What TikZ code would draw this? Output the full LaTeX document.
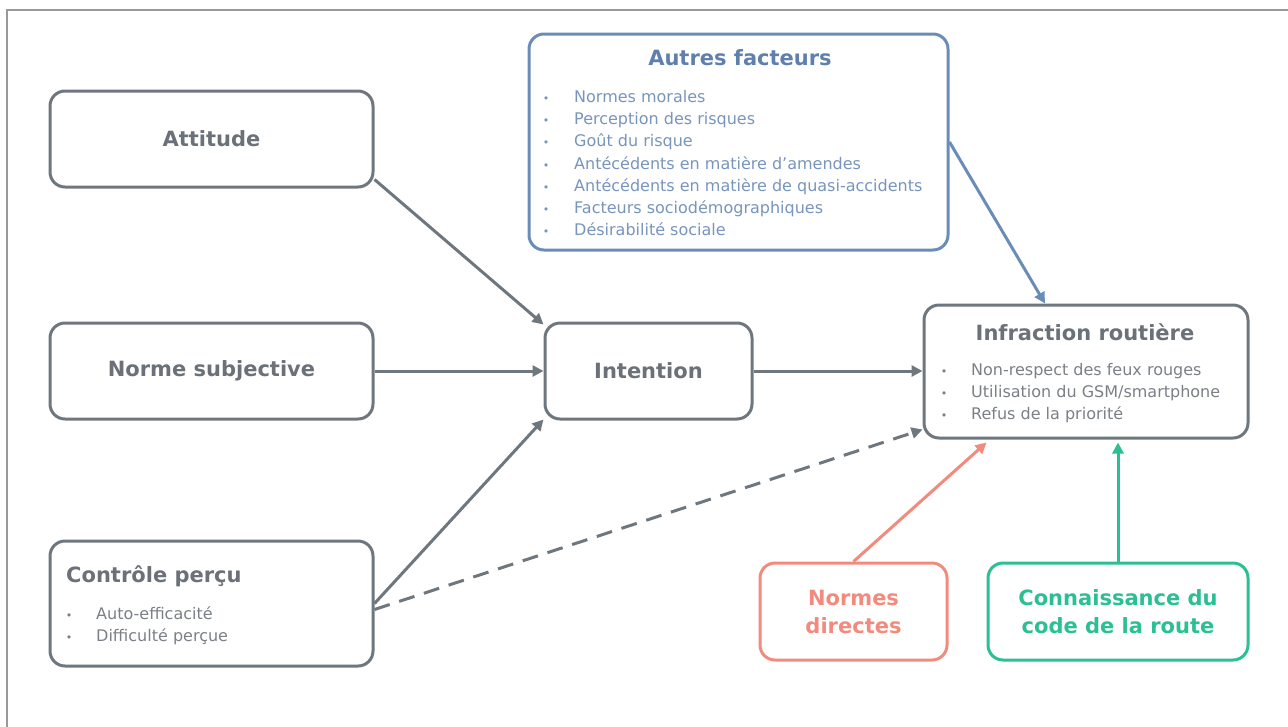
\documentclass[tikz,border=0pt]{standalone}
\usepackage{fontspec}
\setmainfont{DejaVu Sans}
\usetikzlibrary{arrows.meta}
\definecolor{cgray}{HTML}{6E767E}
\definecolor{tgray}{HTML}{6B7178}
\definecolor{igray}{HTML}{7B8087}
\definecolor{cblue}{HTML}{6A8DB8}
\definecolor{tblue}{HTML}{5F80AD}
\definecolor{iblue}{HTML}{7895BD}
\definecolor{csalmon}{HTML}{F28B7D}
\definecolor{cgreen}{HTML}{2BBF94}
\tikzset{
  box/.style={draw=#1, line width=3pt, rounded corners=15pt, fill=white, inner sep=0pt},
  ttl/.style={font=\fontsize{21}{26}\selectfont\bfseries, text=#1, inner sep=0pt},
  itm/.style={font=\fontsize{16}{22}\selectfont, text=#1, inner sep=0pt, anchor=base west},
  bul/.style={font=\fontsize{11}{22}\selectfont, text=#1, inner sep=0pt, anchor=base},
  arr/.style={line width=3pt, draw=#1, -{Triangle[length=11pt,width=11pt]}, shorten >=0pt},
}
\begin{document}
\begin{tikzpicture}[x=1pt,y=-1pt]
\useasboundingbox (0,0) rectangle (1288,726);
\draw[draw=gray!80, line width=1.5pt] (7,740) -- (7,10) -- (1300,10);

% boxes
\node[box=cgray, minimum width=323pt, minimum height=96pt] (att) at (211.5,139) {};
\node[box=cgray, minimum width=323pt, minimum height=96pt] (ns) at (211.5,371) {};
\node[box=cgray, minimum width=323pt, minimum height=125pt] (ctl) at (211.5,603.5) {};
\node[box=cgray, minimum width=207pt, minimum height=96pt] (int) at (648.5,371) {};
\node[box=cblue, minimum width=419pt, minimum height=216pt] (aut) at (738.5,142) {};
\node[box=cgray, minimum width=324pt, minimum height=133pt] (inf) at (1086,371.5) {};
\node[box=csalmon, minimum width=187pt, minimum height=97pt] (nd) at (853.5,611.5) {};
\node[box=cgreen, minimum width=260pt, minimum height=97pt] (cc) at (1118,611.5) {};

% simple texts
\node[ttl=tgray] (tatt) at (att.center) {Attitude};
\node[ttl=tgray] (tns) at (ns.center) {Norme subjective};
\node[ttl=tgray] (tint) at (int.center) {Intention};
\node[ttl=csalmon, align=center, font=\fontsize{21}{28}\selectfont\bfseries] (tnd) at (nd.center) {Normes\\directes};
\node[ttl=cgreen, align=center, font=\fontsize{21}{28}\selectfont\bfseries] (tcc) at (cc.center) {Connaissance du\\code de la route};

% Autres facteurs
\node[ttl=tblue] (taut) at (740,58) {Autres facteurs};
\foreach \t [count=\i] in {Normes morales, Perception des risques, Goût du risque, Antécédents en matière d’amendes, Antécédents en matière de quasi-accidents, Facteurs sociodémographiques, Désirabilité sociale}{
  \node[bul=iblue] (ab\i) at (546,{102.5+(\i-1)*22.2}) {•};
  \node[itm=iblue] (ai\i) at (574,{102.5+(\i-1)*22.2}) {\t};
}

% Infraction routière
\node[ttl=tgray] (tinf) at (1085,332) {Infraction routière};
\foreach \t [count=\i] in {Non-respect des feux rouges, Utilisation du GSM/smartphone, Refus de la priorité}{
  \node[bul=igray] (ib\i) at (944,{375.5+(\i-1)*22}) {•};
  \node[itm=igray] (ii\i) at (971,{375.5+(\i-1)*22}) {\t};
}

% Contrôle perçu
\node[ttl=tgray, anchor=west] (tctl) at (66,576) {Contrôle perçu};
\foreach \t [count=\i] in {Auto-efficacité, Difficulté perçue}{
  \node[bul=igray] (cb\i) at (69,{619.5+(\i-1)*22}) {•};
  \node[itm=igray] (ci\i) at (96,{619.5+(\i-1)*22}) {\t};
}

% connectors
\draw[arr=cgray] ([yshift=9pt]att.south east) -- ([yshift=-3pt]int.north west);
\draw[arr=cgray] (ns.east) -- (int.west);
\draw[arr=cgray] (ctl.east) -- ([yshift=1pt]int.south west);
\draw[arr=cgray, dash pattern=on 16pt off 10pt] ([yshift=-6pt]ctl.east) -- ([yshift=10pt]inf.south west);
\draw[arr=cgray] (int.east) -- (inf.west |- int.east);
\draw[arr=cblue] (aut.east) -- ([xshift=-41pt]inf.north);
\draw[arr=csalmon] (nd.north) -- ([xshift=64pt,yshift=-3pt]inf.south west);
\draw[arr=cgreen] (cc.north) -- ([yshift=-3pt]cc.north |- inf.south);
\end{tikzpicture}
\end{document}
